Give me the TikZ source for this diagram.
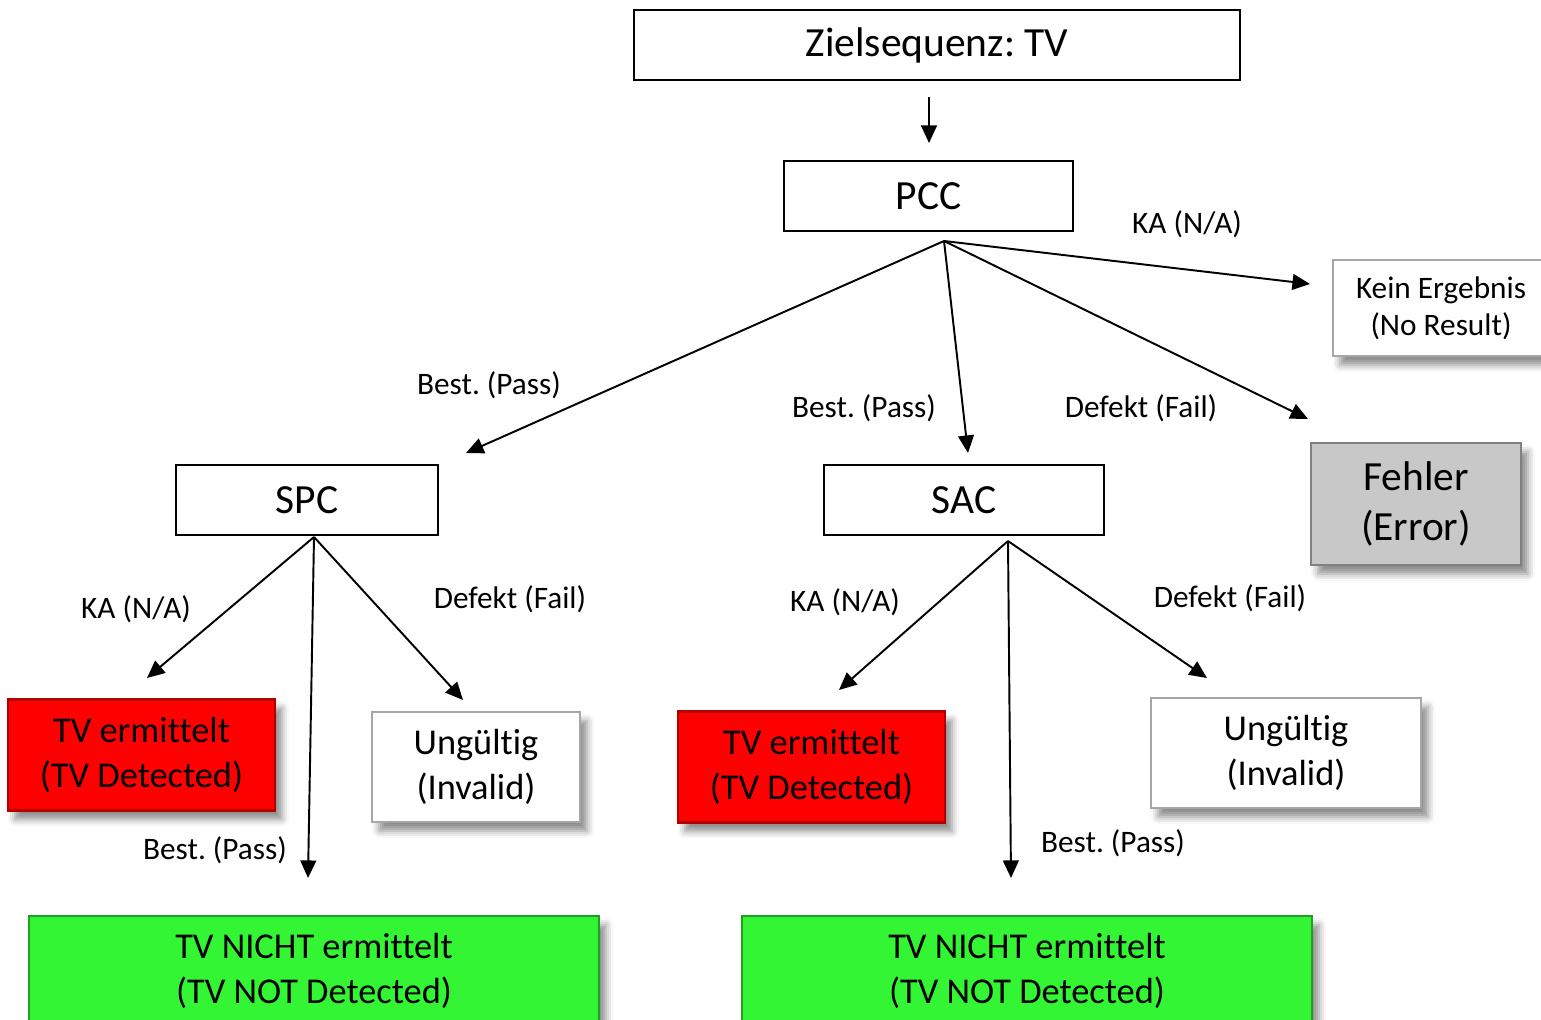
\documentclass[tikz,border=0pt]{standalone}
\usepackage{fontspec}
\setmainfont{Carlito}[Ligatures={NoCommon}]
\usetikzlibrary{arrows.meta, shadows.blur}
\frenchspacing
\definecolor{detred}{RGB}{255,0,0}
\definecolor{notgreen}{RGB}{51,245,51}
\definecolor{errgray}{RGB}{200,200,200}
\tikzstyle{plainbox} = [rectangle, draw=black, line width=1pt, fill=white, inner sep=0pt, font=\fontsize{23.6}{28}\selectfont]
\tikzstyle{result} = [rectangle, line width=1.6pt, inner sep=0pt, align=center, blur shadow={shadow xshift=4pt, shadow yshift=-5pt, shadow blur radius=4pt, shadow opacity=45}, font=\fontsize{20.7}{25.5}\selectfont]
\tikzstyle{detbox} = [result, fill=detred, draw=detred!70!black]
\tikzstyle{notbox} = [result, fill=notgreen, draw=notgreen!65!black]
\tikzstyle{whitebox} = [result, fill=white, draw=black!35]
\tikzstyle{errbox} = [result, fill=errgray, draw=black!50, font=\fontsize{23.6}{28.9}\selectfont]
\tikzstyle{edgetext} = [inner sep=0pt, font=\fontsize{17.8}{21}\selectfont]
\tikzstyle{arrow} = [line width=1.1pt, -{Triangle[length=10pt,width=9pt]}]

\begin{document}
\begin{tikzpicture}[x=0.02cm, y=-0.02cm]
    \useasboundingbox (0,0) rectangle (1541,1020);
    % boxes
    \node (zielseq) [plainbox, minimum width=12.12cm, minimum height=1.4cm] at (937,45) {Zielsequenz: TV};
    \node (pcc) [plainbox, minimum width=5.78cm, minimum height=1.4cm] at (928.5,196) {PCC};
    \node (spc) [plainbox, minimum width=5.24cm, minimum height=1.4cm] at (307,500) {SPC};
    \node (sac) [plainbox, minimum width=5.6cm, minimum height=1.4cm] at (964,500) {SAC};
    \node (keinerg) [whitebox, minimum width=4.32cm, minimum height=1.92cm, font=\fontsize{17.8}{21}\selectfont] at (1441,308) {Kein Ergebnis\\(No Result)};
    \node (fehler) [errbox, minimum width=4.2cm, minimum height=2.44cm] at (1416,504) {Fehler\\(Error)};
    \node (tvdetA) [detbox, minimum width=5.34cm, minimum height=2.22cm] at (141.5,755) {TV ermittelt\\(TV Detected)};
    \node (ungueltigA) [whitebox, minimum width=4.16cm, minimum height=2.2cm] at (476,767) {Ungültig\\(Invalid)};
    \node (tvnichtA) [notbox, minimum width=11.4cm, minimum height=2.2cm] at (314,971) {TV NICHT ermittelt\\(TV NOT Detected)};
    \node (tvdetB) [detbox, minimum width=5.34cm, minimum height=2.22cm] at (811.5,767) {TV ermittelt\\(TV Detected)};
    \node (ungueltigB) [whitebox, minimum width=5.4cm, minimum height=2.2cm] at (1286,753) {Ungültig\\(Invalid)};
    \node (tvnichtB) [notbox, minimum width=11.4cm, minimum height=2.2cm] at (1027,971) {TV NICHT ermittelt\\(TV NOT Detected)};

    % fan points and arrow ends
    \coordinate (zielout) at (929,97);
    \coordinate (pccin) at (929,143);
    \coordinate (pccfan) at (944,241);
    \coordinate (spcfan) at (314,537);
    \coordinate (sacfan) at (1008,541);
    \coordinate (spcin) at (466,453);
    \coordinate (sacin) at (968,453);
    \coordinate (keinin) at (1310,284);
    \coordinate (fehlerin) at (1308,419);
    \coordinate (detAin) at (147,678);
    \coordinate (nichtAin) at (308,878);
    \coordinate (ungAin) at (463,700);
    \coordinate (detBin) at (839,690);
    \coordinate (nichtBin) at (1011,878);
    \coordinate (ungBin) at (1207,678);

    \draw [arrow] (zielout) -- (pccin);
    \draw [arrow] (pccfan) -- (spcin);
    \draw [arrow] (pccfan) -- (sacin);
    \draw [arrow] (pccfan) -- (keinin);
    \draw [arrow] (pccfan) -- (fehlerin);
    \draw [arrow] (spcfan) -- (detAin);
    \draw [arrow] (spcfan) -- (nichtAin);
    \draw [arrow] (spcfan) -- (ungAin);
    \draw [arrow] (sacfan) -- (detBin);
    \draw [arrow] (sacfan) -- (nichtBin);
    \draw [arrow] (sacfan) -- (ungBin);

    % edge texts
    \node (passspc) [edgetext] at (489,385) {Best. (Pass)};
    \node (passsac) [edgetext] at (864,408) {Best. (Pass)};
    \node (napcc) [edgetext] at (1187,224) {KA (N/A)};
    \node (failpcc) [edgetext] at (1141,408) {Defekt (Fail)};
    \node (naspc) [edgetext] at (136,609) {KA (N/A)};
    \node (failspc) [edgetext] at (510,599) {Defekt (Fail)};
    \node (passA) [edgetext] at (215,850) {Best. (Pass)};
    \node (nasac) [edgetext] at (845,602) {KA (N/A)};
    \node (failsac) [edgetext] at (1230,598) {Defekt (Fail)};
    \node (passB) [edgetext] at (1113,843) {Best. (Pass)};
\end{tikzpicture}
\end{document}
